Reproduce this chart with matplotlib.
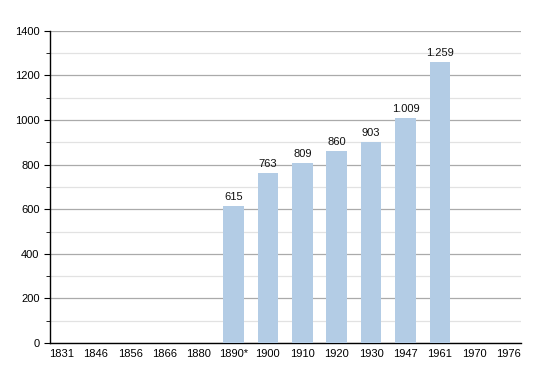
import matplotlib
matplotlib.use('Agg')
import matplotlib.pyplot as plt
from matplotlib.ticker import MultipleLocator

plt.rcParams['font.family'] = ['Liberation Sans', 'DejaVu Sans']

years = ['1831', '1846', '1856', '1866', '1880', '1890*', '1900',
         '1910', '1920', '1930', '1947', '1961', '1970', '1976']
population = [None, None, None, None, None, 615, 763,
              809, 860, 903, 1009, 1259, None, None]
value_labels = ['', '', '', '', '', '615', '763',
                '809', '860', '903', '1.009', '1.259', '', '']

fig = plt.figure(figsize=(5.5, 3.73), dpi=100)
ax = fig.add_axes([0.0909, 0.0804, 0.856, 0.837])

x = list(range(len(years)))
heights = [v if v is not None else 0 for v in population]
bars = ax.bar(x, heights, width=0.6, color='#b3cce5', zorder=3)

for i, v in enumerate(population):
    if v is not None:
        ax.text(i, v + 18, value_labels[i], ha='center', va='bottom',
                fontsize=8, color='#111111', zorder=4)

ax.set_xlim(-0.33, 13.35)
ax.set_ylim(0, 1400)
ax.yaxis.set_major_locator(MultipleLocator(200))
ax.yaxis.set_minor_locator(MultipleLocator(100))
ax.grid(axis='y', which='major', color='#aaaaaa', linewidth=0.9, zorder=0)
ax.grid(axis='y', which='minor', color='#e2e2e2', linewidth=0.9, zorder=0)

ax.set_xticks(x)
ax.set_xticklabels(years, fontsize=8)
ax.tick_params(axis='x', length=0, pad=4)
ax.tick_params(axis='y', which='major', length=4, labelsize=8, color='black')
ax.tick_params(axis='y', which='minor', length=3, color='black')

for side in ['top', 'right']:
    ax.spines[side].set_visible(False)
ax.spines['left'].set_linewidth(1.0)
ax.spines['bottom'].set_linewidth(1.0)

fig.savefig('out.png', dpi=100)
